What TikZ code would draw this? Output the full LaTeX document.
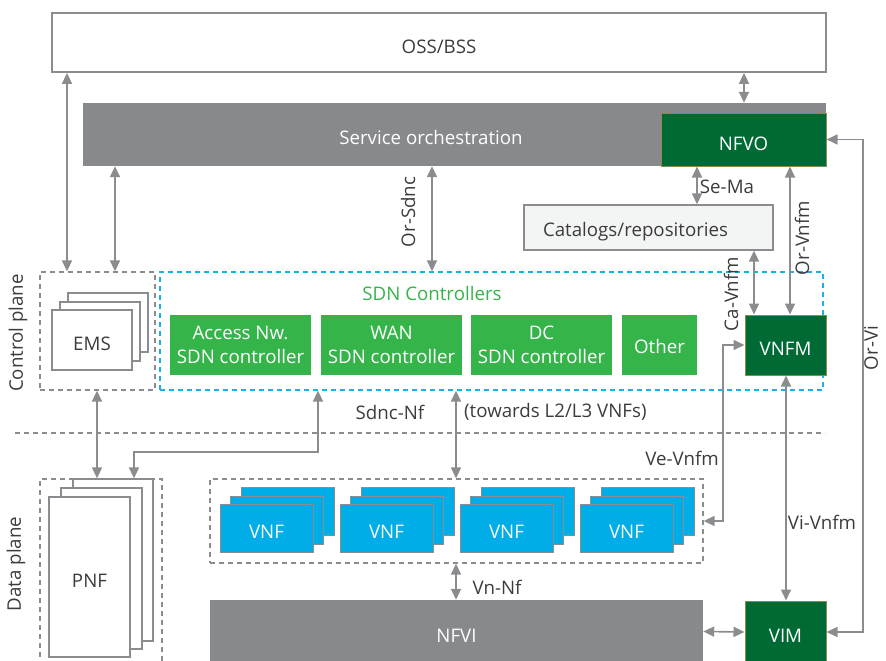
\documentclass[tikz,border=0pt]{standalone}
\usepackage{fontspec}
\setmainfont{Open Sans}
\usetikzlibrary{arrows.meta}

\definecolor{linegray}{HTML}{8A8C8F}
\definecolor{orchgray}{HTML}{87898C}
\definecolor{nfvgreen}{HTML}{006A35}
\definecolor{nfvedge}{HTML}{8C8A4E}
\definecolor{sdngreen}{HTML}{35B44A}
\definecolor{vnfblue}{HTML}{00ADE6}
\definecolor{sdncyan}{HTML}{1AB0E8}
\definecolor{catfill}{HTML}{F3F4F4}
\definecolor{txtgray}{HTML}{3C3C3C}

\tikzset{
  lowtext/.style={text height=21pt, text depth=0pt},
  box/.style={draw=linegray, line width=1.8pt, fill=white, inner sep=0pt, text=txtgray, lowtext},
  orch/.style={fill=orchgray, inner sep=0pt, text=white, lowtext},
  mano/.style={draw=nfvedge, line width=1pt, fill=nfvgreen, inner sep=0pt, text=white, minimum width=81pt, minimum height=60pt, lowtext},
  ctrl/.style={fill=sdngreen, inner sep=0pt, text=white, align=center, minimum height=60pt},
  grp/.style={draw=linegray, line width=1.3pt, dash pattern=on 5pt off 4pt, inner sep=0pt},
  stack/.style={draw=linegray, line width=1.3pt, fill=white, inner sep=0pt, text=txtgray, lowtext},
  vnf/.style={draw=linegray, line width=1pt, fill=vnfblue, inner sep=0pt, text=white, minimum width=93pt, minimum height=48pt, lowtext},
  dbl/.style={draw=linegray, line width=1.6pt, {Triangle[length=11pt,width=10pt]}-{Triangle[length=11pt,width=10pt]}},
  lbl/.style={text=txtgray, inner sep=0pt}
}

\begin{document}
\begin{tikzpicture}[x=1pt, y=-1pt, font=\fontsize{18.7}{24.3}\selectfont]
\useasboundingbox (0,0) rectangle (886,661);

% management layer
\node [box, minimum width=774pt, minimum height=59pt] (oss) at (439,42.5) {OSS/BSS};
\node [orch, minimum width=743pt, minimum height=63pt] (svc) at (454.5,134.5) {};
\node [lbl, text=white] (svctext) at (431,137) {Service orchestration};
\node [mano, minimum width=165pt, minimum height=53pt] (nfvo) at (743.5,139.5) {NFVO};
\node [box, fill=catfill, line width=1.3pt, minimum height=45pt, text width=211pt, inner xsep=19pt, align=left, text height=18pt] (cat) at (648.5,227.5) {Catalogs/repositories};

% control plane
\node [lbl, rotate=90] (cplane) at (18,333) {Control plane};
\node [grp, minimum width=115pt, minimum height=118pt] (emsgrp) at (97.5,331) {};
\node [stack, minimum width=80pt, minimum height=59pt] (emsback) at (108,322.5) {};
\node [stack, minimum width=80pt, minimum height=59pt] (emsmid) at (100,331.5) {};
\node [stack, minimum width=80pt, minimum height=60pt] (ems) at (92,340) {EMS};

\node [grp, draw=sdncyan, minimum width=663pt, minimum height=118pt] (sdngrp) at (491.5,331) {};
\node [lbl, text=sdngreen] (sdntitle) at (432,293) {SDN Controllers};
\node [ctrl, minimum width=141pt] (acc) at (240.5,345) {Access Nw.\\SDN controller};
\node [ctrl, minimum width=141pt] (wan) at (391.5,345) {WAN\\SDN controller};
\node [ctrl, minimum width=141pt] (dc) at (541.5,345) {DC\\SDN controller};
\node [ctrl, minimum width=75pt, text height=17pt, text depth=0pt] (other) at (659.5,345) {Other};
\node [mano] (vnfm) at (785.5,345) {VNFM};

\draw [linegray, line width=1.3pt, dash pattern=on 5pt off 4pt] (15,433) -- (825,433);

% data plane
\node [lbl, rotate=90] (dplane) at (16,564) {Data plane};
\node [grp, minimum width=122pt, minimum height=186pt] (pnfgrp) at (101,572) {};
\node [stack, minimum width=80pt, minimum height=162pt] (pnfback) at (113,560) {};
\node [stack, minimum width=81pt, minimum height=161pt] (pnfmid) at (101.5,568.5) {};
\node [stack, minimum width=81pt, minimum height=160pt] (pnf) at (89.5,577) {PNF};

\node [grp, minimum width=493pt, minimum height=84pt] (vnfgrp) at (456.5,521) {};
\node [vnf] (vnfaback) at (287.5,511) {};
\node [vnf] (vnfamid) at (276.5,520.5) {};
\node [vnf] (vnfa) at (266.5,528) {VNF};
\node [vnf] (vnfbback) at (407.5,511) {};
\node [vnf] (vnfbmid) at (396.5,520.5) {};
\node [vnf] (vnfb) at (386.5,528) {VNF};
\node [vnf] (vnfcback) at (527.5,511) {};
\node [vnf] (vnfcmid) at (516.5,520.5) {};
\node [vnf] (vnfc) at (506.5,528) {VNF};
\node [vnf] (vnfdback) at (647.5,511) {};
\node [vnf] (vnfdmid) at (636.5,520.5) {};
\node [vnf] (vnfd) at (626.5,528) {VNF};

\node [orch, minimum width=493pt, minimum height=63pt] (nfvi) at (456.5,631.5) {NFVI};
\node [mano, minimum height=62pt] (vim) at (785.5,632) {VIM};

% reference points
\coordinate (ossems) at (67,0);
\coordinate (svcems) at (115,0);
\coordinate (osssvc) at (744,0);
\coordinate (orsdnc) at (432,0);
\coordinate (sema) at (697,0);
\coordinate (orvnfm) at (790,0);
\coordinate (cavnfm) at (754,0);
\coordinate (orvi) at (863,0);
\coordinate (vevnfm) at (723,0);
\coordinate (vivnfm) at (786,0);
\coordinate (vnnf) at (456,0);
\coordinate (emspnf) at (97,0);
\coordinate (sdnbend) at (318,452);
\coordinate (pnfbend) at (134,452);

% reference points connectors
\draw [dbl] (ossems |- oss.south) -- (ossems |- emsgrp.north);
\draw [dbl] (svcems |- svc.south) -- (svcems |- emsgrp.north);
\draw [dbl] (osssvc |- oss.south) -- (osssvc |- svc.north);
\draw [dbl] (orsdnc |- svc.south) -- (orsdnc |- sdngrp.north);
\draw [dbl] (sema |- nfvo.south) -- (sema |- cat.north);
\draw [dbl] (orvnfm |- nfvo.south) -- (orvnfm |- vnfm.north);
\draw [dbl] (cavnfm |- cat.south) -- (cavnfm |- vnfm.north);
\draw [dbl] (nfvo.east) -- (orvi |- nfvo.east) -- (orvi |- vim.east) -- (vim.east);
\draw [dbl] (vnfm.west) -- (vevnfm |- vnfm.west) -- (vevnfm |- vnfgrp.east) -- (vnfgrp.east);
\draw [dbl] (vivnfm |- vnfm.south) -- (vivnfm |- vim.north);
\draw [dbl] (nfvi.east) -- (vim.west);
\draw [dbl] (vnnf |- vnfgrp.south) -- (vnnf |- nfvi.north);
\draw [dbl] (vnnf |- sdngrp.south) -- (vnnf |- vnfgrp.north);
\draw [dbl] (emspnf |- emsgrp.south) -- (emspnf |- pnfgrp.north);
\draw [dbl] (sdnbend |- sdngrp.south) -- (sdnbend) -- (pnfbend) -- (pnfbend |- pnfback.north);

% interface labels
\node [lbl, rotate=90] (orsdnclbl) at (408,212) {Or-Sdnc};
\node [lbl] (semalbl) at (727,187) {Se-Ma};
\node [lbl, rotate=90] (orvnfmlbl) at (802,238) {Or-Vnfm};
\node [lbl, rotate=90] (cavnfmlbl) at (731,294) {Ca-Vnfm};
\node [lbl, rotate=90] (orvilbl) at (871,348) {Or-Vi};
\node [lbl] (sdncnflbl) at (390,412) {Sdnc-Nf};
\node [lbl, anchor=west] (towardslbl) at (464,412) {(towards L2/L3 VNFs)};
\node [lbl] (vevnfmlbl) at (682,458) {Ve-Vnfm};
\node [lbl] (vivnfmlbl) at (822,522) {Vi-Vnfm};
\node [lbl] (vnnflbl) at (497,587) {Vn-Nf};
\end{tikzpicture}
\end{document}
